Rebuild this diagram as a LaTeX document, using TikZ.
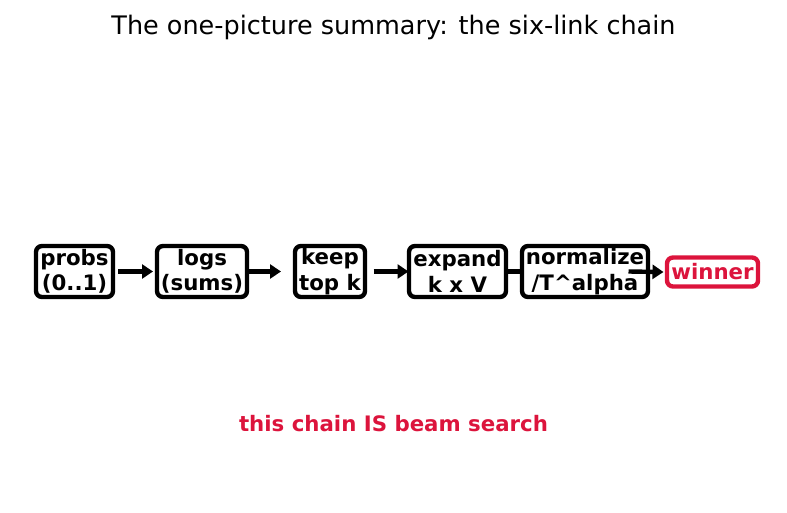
\documentclass[tikz,border=0pt]{standalone}
\usepackage{fontspec}
\setmainfont{DejaVu Sans}
\usetikzlibrary{arrows.meta}
\definecolor{crim}{RGB}{220,20,60}
\pgfdeclarelayer{bg}
\pgfsetlayers{bg,main}
\tikzset{
  chainbox/.style={draw=black, line width=4.4pt, rounded corners=6pt, fill=white,
    align=center, inner sep=0pt, font=\fontsize{21.3}{25.5}\selectfont\bfseries,
    minimum height=51pt},
  winbox/.style={chainbox, draw=crim, text=crim, minimum height=29pt},
  arr/.style={line width=4.4pt, -{Triangle[length=11pt,width=14pt]}}
}
\begin{document}
\begin{tikzpicture}[x=1pt,y=1pt]
\useasboundingbox (0,0) rectangle (787,-512);
\node[font=\fontsize{25.5}{30}\selectfont] (title) at (393.5,-27.5) {The one-picture summary: the six-link chain};
\node[chainbox, minimum width=77pt] (probs) at (74.5,-271.5) {probs\\(0..1)};
\node[chainbox, minimum width=90pt] (logs) at (202,-271.5) {logs\\(sums)};
\node[chainbox, minimum width=70pt] (keep) at (330,-271.5) {keep\\top k};
\node[chainbox, minimum width=97pt] (expand) at (457.5,-271.5) {expand\\k x V};
\node[chainbox, minimum width=126pt] (norm) at (585,-271.5) {normalize\\/T\^{}alpha};
\node[winbox, minimum width=91pt] (win) at (712.5,-272) {winner};
\draw[arr] ([xshift=43.5pt]probs.center) -- ([xshift=-49pt]logs.center);
\draw[arr] ([xshift=43.5pt]logs.center) -- ([xshift=-49pt]keep.center);
\draw[arr] ([xshift=43.5pt]keep.center) -- ([xshift=-49pt]expand.center);
\begin{pgfonlayer}{bg}
\draw[arr] ([xshift=43.5pt]expand.center) -- ([xshift=-49pt]norm.center);
\end{pgfonlayer}
\draw[arr] ([xshift=43.5pt]norm.center) -- ([xshift=-49pt]win.center);
\node[font=\fontsize{21.3}{25.5}\selectfont\bfseries, text=crim] (note) at (393.5,-424) {this chain IS beam search};
\end{tikzpicture}
\end{document}
